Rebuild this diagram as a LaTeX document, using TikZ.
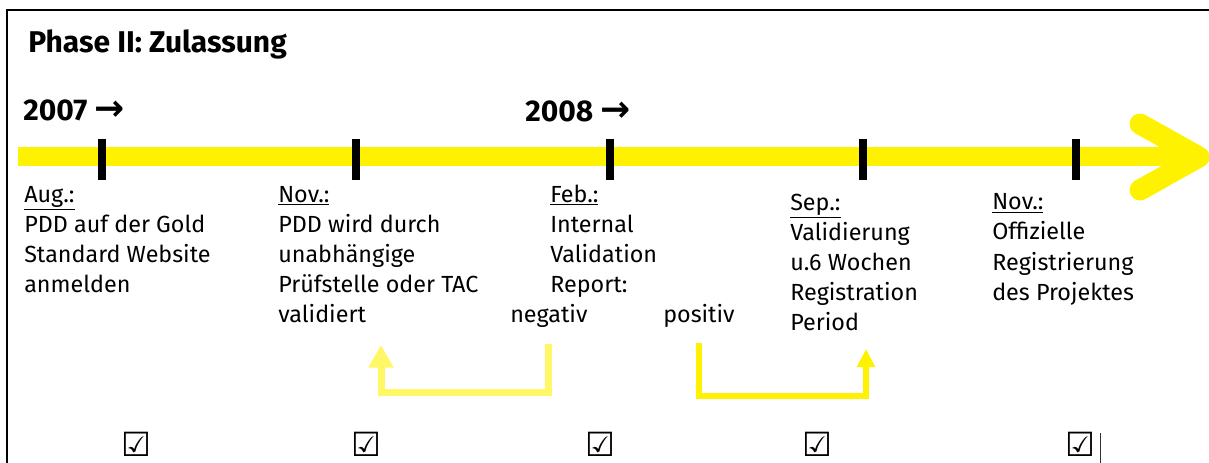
\documentclass[tikz,border=0pt]{standalone}
\usepackage{fontspec}
\setmainfont{Fira Sans}
\newfontfamily\symfont{DejaVu Sans}
\usetikzlibrary{arrows.meta}
\tikzset{
    every node/.style={inner sep=0pt}, % text sits right on its coordinate
    timeline/.style={line width=14.25pt, yellow}, % the big yellow bar
    tickmark/.style={line width=6pt, black},
    column/.style={anchor=base west, align=left, font=\fontsize{17.5}{22.5}\selectfont}, % base = last line
    headline/.style={anchor=base west, font=\fontsize{22.5}{27}\selectfont\bfseries},
    checkbox/.style={font=\symfont\bfseries\fontsize{25}{25}\selectfont},
    loopback/.style={line width=5.25pt, yellow!60, -{Triangle[width=18pt,length=17pt]}}, % back to the validation step
    goforward/.style={line width=4.5pt, yellow, -{Triangle[width=13pt,length=13.5pt]}},
}
\newcommand{\yeararrow}{{\symfont\bfseries\fontsize{27}{27}\selectfont →}}

\begin{document}
\begin{tikzpicture}[x=0.75pt,y=-0.75pt]
\useasboundingbox (0,0) rectangle (1209,463);
% frame
\draw[line width=1.5pt] (7,463) -- (7,10) -- (1209,10);
\draw[line width=0.75pt, black!80] (1100,433) -- (1100,463);

\node[headline] (title) at (28,53) {Phase II: Zulassung};
\node[headline] (y2007) at (23,121) {2007 \yeararrow};
\node[headline] (y2008) at (525,122) {2008 \yeararrow};

% timeline with its ticks
\draw[timeline] (18,157) -- (1185,157);
\draw[timeline, line width=15.75pt, line cap=round, line join=round]
    (1140,124) -- (1199,157) -- (1140,190);
\foreach \x [count=\i] in {102,356,609.5,863,1076}
    \draw[tickmark] (\x,139) -- (\x,180) coordinate (t\i);

% what happens at each tick
\node[column] (aug) at (24,292) {\underline{Aug.:}\\PDD auf der Gold\\Standard Website\\anmelden};
\node[column] (nov) at (278,322) {\underline{Nov.:}\\PDD wird durch\\unabhängige\\Prüfstelle oder TAC\\validiert};
\node[column] (feb) at (550,292) {\underline{Feb.:}\\Internal\\Validation\\Report:};
\node[column] (neg) at (510,322) {negativ};
\node[column] (pos) at (663,322) {positiv};
\node[column] (sep) at (790,330) {\underline{Sep.:}\\Validierung\\u.6 Wochen\\Registration\\Period};
\node[column] (novb) at (992,300) {\underline{Nov.:}\\Offizielle\\Registrierung\\des Projektes};

% the two outcomes of the report
\draw[loopback] ([yshift=-12.75pt]neg.south) |- (381,392) -- (381,345);
\draw[goforward] ([yshift=-12pt]pos.south) |- (866,396) -- (866,349);

% check boxes
\foreach \x [count=\i] in {136,366,600,817,1080}
    \node[checkbox] (box\i) at (\x,444) {☑};
\end{tikzpicture}
\end{document}
